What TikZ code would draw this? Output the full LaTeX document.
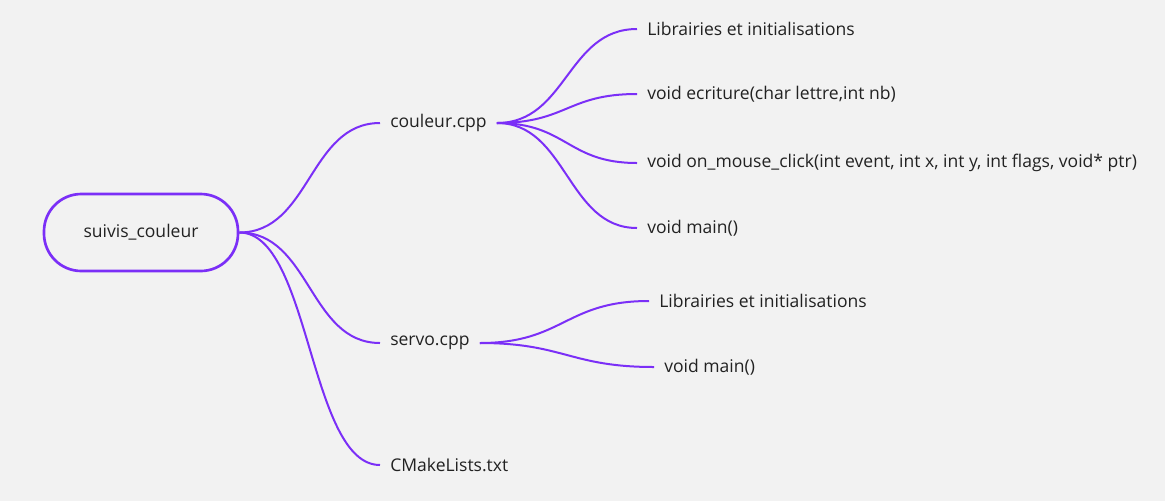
\documentclass[tikz,border=0pt]{standalone}
\usepackage{fontspec}
\setmainfont{Open Sans}
\definecolor{bg}{RGB}{242,242,242}
\definecolor{purp}{RGB}{123,47,247}
\definecolor{txt}{RGB}{34,34,34}
\begin{document}
\begin{tikzpicture}[x=0.75pt,y=-0.75pt,
  lbl/.style={anchor=west,inner xsep=7.5pt,inner ysep=2pt,text=txt,font=\fontsize{13.15}{15}\selectfont},
  conn/.style={draw=purp,line width=1.5pt},
  rootbox/.style={draw=purp,line width=2pt,rounded corners=28pt,minimum width=145.5pt,minimum height=57.75pt,text=txt,font=\fontsize{13.15}{15}\selectfont}]
\fill[bg] (0,0) rectangle (1165,501);
\useasboundingbox (0,0) rectangle (1165,501);
\node[rootbox] (r) at (141,232.5) {suivis\_couleur};
\node[lbl] (c) at (380,123) {couleur.cpp};
\node[lbl] (s) at (380,343) {servo.cpp};
\node[lbl] (m) at (380,465) {CMakeLists.txt};
\node[lbl] (c1) at (637,29) {Librairies et initialisations};
\node[lbl] (c2) at (637,94) {void ecriture(char lettre,int nb)};
\node[lbl] (c3) at (637,163) {void on\_mouse\_click(int event, int x, int y, int flags, void* ptr)};
\node[lbl] (c4) at (637,228) {void main()};
\node[lbl] (s1) at (649,301) {Librairies et initialisations};
\node[lbl] (s2) at (654,367) {void main()};
\foreach \t in {c,s,m}{
  \draw[conn] (r.east) .. controls +(71,0) and +(-71,0) .. (\t.west);
}
\foreach \t in {c1,c2,c3,c4}{
  \draw[conn] (c.east) .. controls +(70,0) and +(-70,0) .. (\t.west);
}
\foreach \t in {s1,s2}{
  \draw[conn] (s.east) .. controls +(84,0) and +(-84,0) .. (\t.west);
}
\end{tikzpicture}
\end{document}
